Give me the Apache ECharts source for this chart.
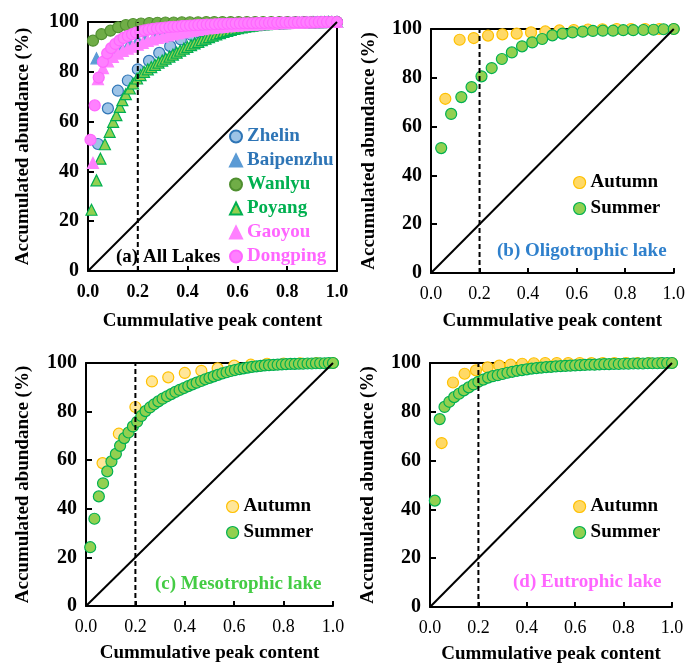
<!DOCTYPE html>
<html><head><meta charset="utf-8">
<script src="https://cdn.jsdelivr.net/npm/echarts@6/dist/echarts.min.js"></script>
<style>html,body{margin:0;padding:0;background:#fff}#c{width:688px;height:665px}</style>
</head><body><div id="c"></div>
<script>
// ---------- data ----------
const xTicks = [0, 0.2, 0.4, 0.6, 0.8, 1.0];
const yTicks = [0, 20, 40, 60, 80, 100];
const diagX = [0, 1];
const diagY = [0, 100];
const cutoffX = 0.2;

// (a) All lakes
const zhelinX = [0.040,0.080,0.120,0.160,0.200,0.245,0.286,0.330,0.373,0.416,0.458,0.500,0.542,0.583,0.625,0.667,0.708,0.750,0.792,0.833,0.875,0.917,0.958,1.000];
const zhelinY = [51.0,65.3,72.4,76.5,81.0,84.4,87.6,90.3,93.0,94.8,96.0,97.0,97.7,98.3,98.7,99.1,99.4,99.6,99.7,99.8,99.9,99.9,100,100];
const baipenzhuX = [0.034,0.067,0.100,0.133,0.167,0.200,0.233,0.267,0.300,0.333,0.367,0.400,0.433,0.467,0.500,0.533,0.567,0.600,0.633,0.667,0.700,0.733,0.767,0.800,0.833,0.867,0.900,0.933,0.967,1.000];
const baipenzhuY = [85.4,86.0,88.5,90.3,91.7,92.8,93.7,94.5,95.2,95.8,96.3,96.8,97.2,97.6,97.9,98.2,98.5,98.7,98.9,99.1,99.3,99.4,99.5,99.6,99.7,99.8,99.9,99.9,100,100];
const wanlyuX = [0.020,0.054,0.090,0.121,0.152,0.181,0.213,0.246,0.279,0.311,0.344,0.377,0.409,0.442,0.475,0.507,0.540,0.573,0.605,0.638,0.671,0.703,0.736,0.769,0.801,0.834,0.867,0.899,0.932,0.965,1.000];
const wanlyuY = [92.5,95.1,96.5,97.9,98.8,99.2,99.4,99.6,99.7,99.8,99.8,99.9,99.9,99.9,100,100,100,100,100,100,100,100,100,100,100,100,100,100,100,100,100];
const poyangX = [0.014,0.034,0.050,0.068,0.087,0.101,0.114,0.128,0.138,0.152,0.168,0.181,0.197,0.211,0.225,0.240,0.254,0.269,0.283,0.298,0.312,0.327,0.341,0.356,0.370,0.385,0.399,0.414,0.428,0.443,0.457,0.472,0.486,0.501,0.515,0.530,0.544,0.559,0.573,0.588,0.602,0.617,0.631,0.646,0.660,0.675,0.689,0.704,0.718,0.733,0.747,0.762,0.776,0.791,0.805,0.820,0.834,0.849,0.863,0.878,0.892,0.907,0.921,0.936,0.950,0.965,0.979,1.000];
const poyangY = [24.6,36.4,45.1,50.9,55.9,59.9,62.6,65.9,68.6,71.0,73.3,75.3,77.3,78.7,80.0,81.0,81.9,82.8,83.7,84.5,85.3,86.1,86.9,87.7,88.5,89.3,90.0,90.7,91.4,92.0,92.7,93.3,93.9,94.5,95.0,95.5,96.0,96.4,96.8,97.2,97.5,97.8,98.1,98.3,98.5,98.7,98.9,99.0,99.1,99.2,99.3,99.4,99.5,99.5,99.6,99.6,99.7,99.7,99.8,99.8,99.8,99.9,99.9,99.9,100,100,100,100];
const gaoyouX = [0.020,0.040,0.060,0.080,0.100,0.120,0.140,0.160,0.180,0.200,0.220,0.240,0.260,0.280,0.300,0.320,0.340,0.360,0.380,0.400,0.420,0.440,0.460,0.480,0.500,0.520,0.540,0.560,0.580,0.600,0.620,0.640,0.660,0.680,0.700,0.720,0.740,0.760,0.780,0.800,0.820,0.840,0.860,0.880,0.900,0.920,0.940,0.960,0.980,1.000];
const gaoyouY = [43.4,77.0,81.5,84.2,86.0,87.3,88.4,89.3,90.1,90.9,91.6,92.4,93.0,93.6,94.1,94.6,95.0,95.4,95.8,96.2,96.5,96.8,97.1,97.4,97.6,97.8,98.0,98.2,98.4,98.5,98.7,98.8,98.9,99.0,99.1,99.2,99.3,99.4,99.5,99.5,99.6,99.7,99.7,99.8,99.8,99.9,99.9,100,100,100];
const dongpingX = [0.010,0.027,0.043,0.060,0.077,0.093,0.110,0.127,0.143,0.160,0.177,0.193,0.210,0.227,0.243,0.260,0.277,0.293,0.310,0.327,0.343,0.360,0.377,0.393,0.410,0.427,0.443,0.460,0.477,0.493,0.510,0.527,0.543,0.560,0.577,0.593,0.610,0.627,0.643,0.660,0.677,0.693,0.710,0.727,0.743,0.760,0.777,0.793,0.810,0.827,0.843,0.860,0.877,0.893,0.910,0.927,0.943,0.960,0.977,1.000];
const dongpingY = [52.7,66.5,77.7,84.0,87.4,89.5,91.2,92.6,93.6,94.4,95.1,95.7,96.2,96.6,96.9,97.2,97.4,97.6,97.8,98.0,98.1,98.2,98.4,98.5,98.6,98.7,98.8,98.9,99.0,99.0,99.1,99.2,99.2,99.3,99.3,99.4,99.4,99.5,99.5,99.5,99.6,99.6,99.6,99.7,99.7,99.7,99.8,99.8,99.8,99.8,99.9,99.9,99.9,99.9,99.9,100,100,100,100,100];

// (b) Oligotrophic
const autumnBX = [0.059,0.118,0.176,0.235,0.294,0.353,0.412,0.471,0.529,0.588,0.647,0.706,0.765,0.824,0.882,0.941,1.000];
const autumnBY = [71.4,95.6,96.3,97.3,97.8,98.1,98.6,99.0,99.4,99.6,99.8,99.9,100,100,100,100,100];
const summerBX = [0.042,0.083,0.125,0.167,0.208,0.250,0.292,0.333,0.375,0.417,0.458,0.500,0.542,0.583,0.625,0.667,0.708,0.750,0.792,0.833,0.875,0.917,0.958,1.000];
const summerBY = [51.2,65.2,72.1,76.2,80.6,84.0,87.7,90.4,92.9,94.5,95.9,97.4,98.1,98.6,98.9,99.2,99.3,99.3,99.5,99.5,99.6,99.7,99.9,100];

// (c) Mesotrophic
const autumnCX = [0.067,0.133,0.200,0.267,0.333,0.400,0.467,0.533,0.600,0.667,0.733,0.800,0.867,0.933,1.000];
const autumnCY = [58.8,70.9,81.9,92.4,94.1,95.9,96.8,97.8,98.9,99.3,99.7,99.8,99.9,100,100];
const summerCX = [0.017,0.034,0.052,0.069,0.086,0.103,0.121,0.138,0.155,0.172,0.190,0.207,0.224,0.241,0.259,0.276,0.293,0.310,0.328,0.345,0.362,0.379,0.397,0.414,0.431,0.448,0.466,0.483,0.500,0.517,0.534,0.552,0.569,0.586,0.603,0.621,0.638,0.655,0.672,0.690,0.707,0.724,0.741,0.759,0.776,0.793,0.810,0.828,0.845,0.862,0.879,0.897,0.914,0.931,0.948,0.966,0.983,1.000];
const summerCY = [24.2,35.9,45.1,50.5,55.4,59.5,62.6,65.9,69.1,71.4,73.9,75.8,78.2,80.2,81.7,83.0,84.2,85.3,86.3,87.2,88.1,88.9,89.7,90.5,91.2,91.9,92.6,93.3,93.9,94.5,95.1,95.7,96.2,96.7,97.1,97.5,97.8,98.1,98.4,98.6,98.8,99.0,99.1,99.2,99.3,99.4,99.5,99.6,99.6,99.7,99.7,99.8,99.8,99.9,99.9,99.9,100,100];

// (d) Eutrophic
const autumnDX = [0.048,0.095,0.143,0.190,0.238,0.286,0.333,0.381,0.429,0.476,0.524,0.571,0.619,0.667,0.714,0.762,0.810,0.857,0.905,0.952,1.000];
const autumnDY = [67.2,92.0,95.6,97.0,98.2,98.9,99.3,99.7,99.9,100,100,100,100,100,100,100,100,100,100,100,100];
const summerDX = [0.020,0.040,0.060,0.080,0.100,0.120,0.140,0.160,0.180,0.200,0.220,0.240,0.260,0.280,0.300,0.320,0.340,0.360,0.380,0.400,0.420,0.440,0.460,0.480,0.500,0.520,0.540,0.560,0.580,0.600,0.620,0.640,0.660,0.680,0.700,0.720,0.740,0.760,0.780,0.800,0.820,0.840,0.860,0.880,0.900,0.920,0.940,0.960,0.980,1.000];
const summerDY = [43.6,77.0,82.0,84.1,86.0,87.4,88.8,90.0,91.2,92.3,93.2,94.0,94.6,95.0,95.5,96.0,96.4,96.8,97.1,97.4,97.7,97.9,98.1,98.3,98.4,98.6,98.7,98.8,98.9,99.0,99.1,99.2,99.3,99.3,99.4,99.5,99.5,99.6,99.6,99.7,99.7,99.8,99.8,99.8,99.9,99.9,99.9,100,100,100];

// ---------- chart ----------
const FONT = '"Liberation Serif","Times New Roman",serif';
const pts = (xs, ys) => xs.map((x, i) => [x, ys[i]]);

const grids = [
  {left: 88, top: 22, width: 249, height: 249},
  {left: 431, top: 29, width: 247, height: 244},
  {left: 86, top: 363, width: 247, height: 243},
  {left: 430, top: 363, width: 242, height: 244}
];
const xNameGaps = [41, 39, 38, 38];
const yNameGaps = [55, 52, 53, 52];

const xAxes = [], yAxes = [];
grids.forEach((g, i) => {
  xAxes.push({
    type: 'value', gridIndex: i, min: xTicks[0], max: xTicks[xTicks.length - 1], interval: 0.2,
    axisLine: {onZero: false, lineStyle: {color: '#000', width: 2}},
    axisTick: {inside: true, length: 5, lineStyle: {color: '#000', width: 2}},
    axisLabel: {
      margin: 12, color: '#000', fontFamily: FONT, fontSize: 18,
      fontWeight: i === 0 ? 'bold' : 'normal',
      formatter: v => v.toFixed(1)
    },
    splitLine: {show: false},
    name: 'Cummulative peak content', nameLocation: 'middle', nameGap: xNameGaps[i],
    nameTextStyle: {color: '#000', fontFamily: FONT, fontSize: 19, fontWeight: 'bold'}
  });
  xAxes.push({
    type: 'value', gridIndex: i, position: 'top', min: 0, max: 1,
    axisLine: {onZero: false, lineStyle: {color: '#000', width: 2}},
    axisTick: {show: false}, axisLabel: {show: false}, splitLine: {show: false}
  });
  yAxes.push({
    type: 'value', gridIndex: i, min: yTicks[0], max: yTicks[yTicks.length - 1], interval: 20,
    axisLine: {onZero: false, lineStyle: {color: '#000', width: 2}},
    axisTick: {inside: true, length: 6, lineStyle: {color: '#000', width: 2}},
    axisLabel: {margin: 9, color: '#000', fontFamily: FONT, fontSize: 20, fontWeight: 'bold'},
    splitLine: {show: false},
    name: 'Accumulated abundance (%)', nameLocation: 'middle', nameGap: yNameGaps[i],
    nameTextStyle: {color: '#000', fontFamily: FONT, fontSize: 19, fontWeight: 'bold'}
  });
});
// right border for panel (a)
yAxes.push({
  type: 'value', gridIndex: 0, position: 'right', min: 0, max: 100,
  axisLine: {onZero: false, lineStyle: {color: '#000', width: 2}},
  axisTick: {show: false}, axisLabel: {show: false}, splitLine: {show: false}
});

function sc(name, data, gi, symbol, fill, border, size) {
  return {
    type: 'scatter', name, data, xAxisIndex: gi * 2, yAxisIndex: gi,
    symbol, symbolSize: size || 11, z: 2,
    itemStyle: {color: fill, borderColor: border, borderWidth: 1.2, opacity: 1},
    emphasis: {disabled: true}
  };
}
function refLines(gi) {
  return [
    {type: 'line', data: pts(diagX, diagY), xAxisIndex: gi * 2, yAxisIndex: gi, showSymbol: false, symbol: 'none',
     lineStyle: {color: '#000', width: 2}, z: 5, silent: true},
    {type: 'line', data: pts([cutoffX, cutoffX], [0, 100]), xAxisIndex: gi * 2, yAxisIndex: gi, showSymbol: false, symbol: 'none',
     lineStyle: {color: '#000', width: 2, type: [5, 3]}, z: 5, silent: true}
  ];
}

const C = {
  zhelinF: '#9DC3E6', zhelinB: '#2E75B6',
  baipF: '#5B9BD5', baipB: '#5B9BD5',
  wanF: '#70AD47', wanB: '#4F8F2F',
  poyF: '#92D050', poyB: '#00B050',
  gaoF: '#FF80FF', gaoB: '#FF80FF',
  dongF: '#FF80FF', dongB: '#FF66FF',
  autF: '#FFD966', autB: '#FFC000', autLightF: '#FFE699',
  sumF: '#92D050', sumB: '#00B050'
};

const series = [
  sc('Zhelin', pts(zhelinX, zhelinY), 0, 'circle', C.zhelinF, C.zhelinB),
  sc('Baipenzhu', pts(baipenzhuX, baipenzhuY), 0, 'triangle', C.baipF, C.baipB, 11),
  sc('Wanlyu', pts(wanlyuX, wanlyuY), 0, 'circle', C.wanF, C.wanB),
  sc('Poyang', pts(poyangX, poyangY), 0, 'triangle', C.poyF, C.poyB, 11),
  sc('Gaoyou', pts(gaoyouX, gaoyouY), 0, 'triangle', C.gaoF, C.gaoB, 11),
  sc('Dongping', pts(dongpingX, dongpingY), 0, 'circle', C.dongF, C.dongB),
  ...refLines(0),
  sc('Autumn', pts(autumnBX, autumnBY), 1, 'circle', C.autF, C.autB),
  sc('Summer', pts(summerBX, summerBY), 1, 'circle', C.sumF, C.sumB),
  ...refLines(1),
  sc('Autumn', pts(autumnCX, autumnCY), 2, 'circle', C.autLightF, C.autB),
  sc('Summer', pts(summerCX, summerCY), 2, 'circle', C.sumF, C.sumB),
  ...refLines(2),
  sc('Autumn', pts(autumnDX, autumnDY), 3, 'circle', C.autF, C.autB),
  sc('Summer', pts(summerDX, summerDY), 3, 'circle', C.sumF, C.sumB),
  ...refLines(3)
];

const legTxt = (color) => ({color, fontFamily: FONT, fontSize: 19, fontWeight: 'bold', lineHeight: 19});
const legBase = {orient: 'vertical', padding: 0, itemWidth: 12, itemHeight: 12, selectedMode: false,
  textStyle: legTxt('#000')};
const seasonLegend = (left, top, autFill) => Object.assign({}, legBase, {
  left, top, itemGap: 7,
  data: [
    {name: 'Autumn', icon: 'circle', itemStyle: {color: autFill, borderColor: C.autB, borderWidth: 1.2}},
    {name: 'Summer', icon: 'circle', itemStyle: {color: C.sumF, borderColor: C.sumB, borderWidth: 1.2}}
  ]
});

const legends = [
  Object.assign({}, legBase, {
    left: 229, top: 127, itemGap: 5,
    data: [
      {name: 'Zhelin', icon: 'circle', textStyle: legTxt('#2E75B6')},
      {name: 'Baipenzhu', icon: 'triangle', textStyle: legTxt('#2E75B6')},
      {name: 'Wanlyu', icon: 'circle', textStyle: legTxt('#00B050')},
      {name: 'Poyang', icon: 'triangle', textStyle: legTxt('#00B050')},
      {name: 'Gaoyou', icon: 'triangle', textStyle: legTxt('#FF66FF')},
      {name: 'Dongping', icon: 'circle', textStyle: legTxt('#FF66FF')}
    ]
  }),
  seasonLegend(573, 173, C.autF),
  seasonLegend(226, 497, C.autLightF),
  seasonLegend(573, 497, C.autF)
];

const ttl = (text, left, top, color) => ({text, left, top, padding: 0,
  textStyle: {color, fontFamily: FONT, fontSize: 19, fontWeight: 'bold'}});

const chart = echarts.init(document.getElementById('c'), null, {renderer: 'canvas'});
chart.setOption({
  animation: false,
  backgroundColor: '#fff',
  title: [
    ttl('(a) All Lakes', 116, 248, '#000'),
    ttl('(b) Oligotrophic lake', 497, 242, '#2F80CC'),
    ttl('(c) Mesotrophic lake', 155, 575, '#44CC44'),
    ttl('(d) Eutrophic lake', 513, 573, '#FF66FF')
  ],
  grid: grids,
  xAxis: xAxes,
  yAxis: yAxes,
  legend: legends,
  series
});
</script>
</body></html>
